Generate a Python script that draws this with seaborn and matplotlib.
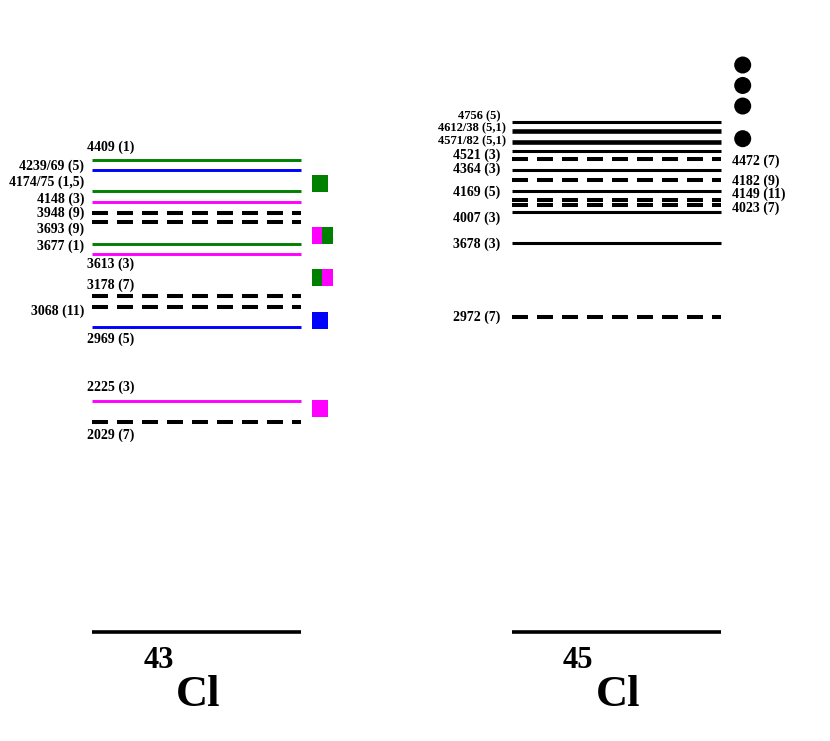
import pandas as pd
import matplotlib.pyplot as plt
from matplotlib.patches import Rectangle
import seaborn as sns

# level scheme data, positions are the drawn heights in keV (schematic)
cl43_labels = ["4409 (1)", "4239/69 (5)", "4174/75 (1,5)", "4148 (3)", "3948 (9)", "3693 (9)",
               "3677 (1)", "3613 (3)", "3178 (7)", "3068 (11)", "2969 (5)", "2225 (3)", "2029 (7)"]
cl43_pos = [4456, 4356, 4160, 4059, 3950, 3865, 3663, 3563, 3167, 3069, 2875, 2182, 1984]
cl43_color = ["green", "blue", "green", "magenta", "black", "black", "green", "magenta",
              "black", "black", "blue", "magenta", "black"]
cl43_dashed = [False, False, False, False, True, True, False, False, True, True, False, False, True]
cl43_label_pos = [4573, 4396, 4242, 4082, 3950, 3799, 3642, 3469, 3274, 3028, 2761, 2309, 1852]
cl43_label_side = ["top", "left", "left", "left", "left", "left", "left", "bottom", "top",
                   "left", "bottom", "top", "bottom"]

# coloured boxes next to 43Cl levels (left half, right half)
box_pos = [4233, 3741, 3340, 2939, 2113]
box_left = ["green", "magenta", "green", "blue", "magenta"]
box_right = [None, "green", "magenta", None, None]

cl45_labels = ["4756 (5)", "4612/38 (5,1)", "4571/82 (5,1)", "4521 (3)", "4472 (7)", "4364 (3)",
               "4182 (9)", "4169 (5)", "4149 (11)", "4023 (7)", "4007 (3)", "3678 (3)", "2972 (7)"]
cl45_pos = [4811, 4726, 4627, 4538, 4459, 4361, 4264, 4163, 4071, 4025, 3962, 3667, 2972]
cl45_dashed = [False, False, False, False, True, False, True, False, True, True, False, False, True]
cl45_thick = [False, True, True, False, False, False, False, False, False, False, False, False, False]
cl45_label_pos = [4863, 4748, 4632, 4500, 4443, 4365, 4248, 4144, 4129, 3997, 3906, 3660, 2965]
cl45_label_side = ["left", "left", "left", "left", "right", "left", "right", "left", "right",
                   "right", "left", "left", "left"]
cl45_label_size = [9, 9, 9, 10, 10, 10, 10, 10, 10, 10, 10, 10, 10]

dots_pos = [5349, 5156, 4962, 4654]

PX_PER_KEV = 0.106
DASH = (11.5, 6.5)

sns.set_style("white")
plt.rcParams["font.family"] = ["Liberation Serif", "DejaVu Serif"]
plt.rcParams["lines.scale_dashes"] = False
plt.rcParams["text.color"] = "black"

fig = plt.figure(figsize=(8.3, 7.41), dpi=100)
ax = fig.add_axes([0, 0, 1, 1])
ax.set_xlim(0, 830)
ax.set_ylim(-(741 - 632) / PX_PER_KEV, 632 / PX_PER_KEV)
ax.axis("off")


def level(x0, x1, y, color, dashed, lw):
    if dashed:
        ax.plot([x0, x1], [y, y], color=color, lw=lw, dashes=DASH, dash_capstyle="butt")
    else:
        ax.plot([x0, x1], [y, y], color=color, lw=lw, solid_capstyle="butt")


lab_kw = dict(fontweight="bold", va="center", color="black")

# 43Cl
df43 = pd.DataFrame({"label": cl43_labels, "pos": cl43_pos, "color": cl43_color,
                     "dashed": cl43_dashed, "lpos": cl43_label_pos, "side": cl43_label_side})
for r in df43.itertuples():
    level(92, 301, r.pos, r.color, r.dashed, 2.9 if r.dashed else 2.1)
    if r.side == "left":
        ax.text(84, r.lpos, r.label, ha="right", fontsize=10, **lab_kw)
    else:
        ax.text(87, r.lpos, r.label, ha="left", fontsize=10, **lab_kw)

box_h = 17 / PX_PER_KEV
for y, cl, cr in zip(box_pos, box_left, box_right):
    if cr is None:
        ax.add_patch(Rectangle((311.7, y - box_h / 2), 16.7, box_h, color=cl, lw=0))
    else:
        ax.add_patch(Rectangle((311.7, y - box_h / 2), 10.6, box_h, color=cl, lw=0))
        ax.add_patch(Rectangle((322.3, y - box_h / 2), 10.6, box_h, color=cr, lw=0))

# 45Cl
df45 = pd.DataFrame({"label": cl45_labels, "pos": cl45_pos, "dashed": cl45_dashed,
                     "thick": cl45_thick, "lpos": cl45_label_pos, "side": cl45_label_side,
                     "size": cl45_label_size})
for r in df45.itertuples():
    lw = 3.3 if r.thick else (2.9 if r.dashed else 2.2)
    level(512, 721, r.pos, "black", r.dashed, lw)
    if r.side == "left":
        x = 506 if "/" in r.label else 500
        ax.text(x, r.lpos, r.label, ha="right", fontsize=r.size, **lab_kw)
    else:
        ax.text(732, r.lpos, r.label, ha="left", fontsize=r.size, **lab_kw)

dots = pd.DataFrame({"x": [742.7] * len(dots_pos), "y": dots_pos})
sns.scatterplot(data=dots, x="x", y="y", ax=ax, color="black", s=150, edgecolor="none",
                legend=False)

# ground states and nucleus names
for x0, x1, mass in [(92, 301, "43"), (512, 721, "45")]:
    level(x0, x1, 0, "black", False, 2.6)
    xc = (x0 + x1) / 2 + 2
    ax.text(xc - 23, -(706 - 632) / PX_PER_KEV, "Cl", fontsize=32, fontweight="bold",
            ha="left", va="baseline", color="black")
    ax.text(xc - 25, -(668 - 632) / PX_PER_KEV, mass, fontsize=22, fontweight="bold",
            ha="right", va="baseline", color="black")

fig.savefig("out.png", dpi=100)
